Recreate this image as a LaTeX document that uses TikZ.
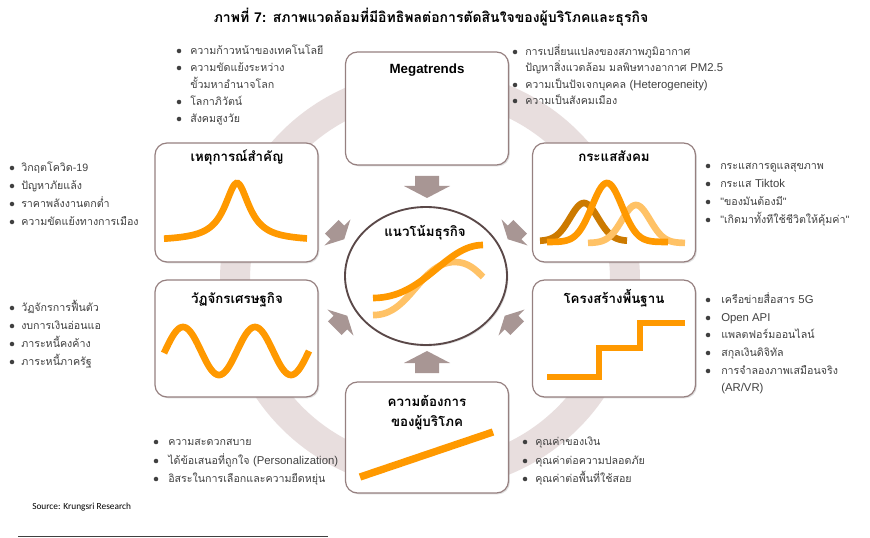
\documentclass[tikz,border=0pt]{standalone}
\usepackage{fontspec}
\setmainfont{Liberation Sans}
\newfontfamily\thai[Script=Thai]{Loma}
\newfontfamily\latf{Liberation Sans}
\newfontfamily\srcfont{Carlito}
\usetikzlibrary{shapes.geometric,shadows}
\definecolor{ringc}{RGB}{232,222,222}
\definecolor{boxc}{RGB}{150,128,128}
\definecolor{arrc}{RGB}{168,150,148}
\definecolor{orng}{RGB}{255,153,0}
\definecolor{dorng}{RGB}{204,122,0}
\definecolor{lorng}{RGB}{255,194,102}
\definecolor{txtc}{RGB}{64,64,64}
\definecolor{circc}{RGB}{90,72,72}
\tikzset{
 panel/.style={draw=boxc, line width=0.9pt, fill=white, rounded corners=9pt, minimum width=122.25pt, inner sep=0pt,
   drop shadow={opacity=0.25, shadow xshift=1pt, shadow yshift=-1pt}},
 ptitle/.style={font=\thai\bfseries\fontsize{10}{12}\selectfont, text=black, inner sep=0pt, text height=8pt, text depth=3pt},
 btext/.style={font=\thai\fontsize{8}{10}\selectfont, text=txtc, anchor=west, inner sep=0pt, text height=7pt, text depth=2pt},
 bdot/.style={circle, fill=txtc, minimum size=3.4pt, inner sep=0pt},
 curve/.style={line width=5pt, draw=orng},
 blockarrow/.pic={\fill[arrc] (-12,-11) -- (12,-11) -- (12,-1) -- (23,-1) -- (0,11) -- (-23,-1) -- (-12,-1) -- cycle;}
}
\newcommand\mybul[5]{\node[bdot] (#1d) at (#2,#4) {}; \node[btext] (#1) at (#3,#4) {#5};}
\newcommand\myline[4]{\node[btext] (#1) at (#2,#3) {#4};}
\begin{document}
\begin{tikzpicture}[x=0.75pt,y=-0.75pt]
\useasboundingbox (0,0) rectangle (870,538);
\fill[white] (0,0) rectangle (870,538);
% title
\node[font=\thai\bfseries\fontsize{10.5}{12}\selectfont, inner sep=0pt] (title) at (431,17) {ภาพที่ {\latf 7:} สภาพแวดล้อมที่มีอิทธิพลต่อการตัดสินใจของผู้บริโภคและธุรกิจ};
% ring
\draw[ringc, line width=22.5pt] (430,280) circle[radius=146.25pt];
% panels
\node[panel, minimum height=84.75pt] (mega) at (427,108.5) {};
\node[panel, minimum height=89.25pt] (evt) at (236.5,202.5) {};
\node[panel, minimum height=89.25pt] (soc) at (614,202.5) {};
\node[panel, minimum height=87.75pt] (cyc) at (236.5,338.5) {};
\node[panel, minimum height=87.75pt] (infra) at (614,338.5) {};
\node[panel, minimum height=83.25pt] (cons) at (427,437.5) {};
% centre
\node[ellipse, draw=circc, line width=1.4pt, fill=white, minimum width=121.5pt, minimum height=103.5pt, inner sep=0pt,
  drop shadow={opacity=0.25, shadow xshift=1pt, shadow yshift=-1pt}] (trend) at (426,276) {};
% arrows
\pic at (427,187) {blockarrow};
\pic[rotate=180] at (427,362) {blockarrow};
\pic[rotate=45, scale=0.8] at (338,233) {blockarrow};
\pic[rotate=-45, scale=0.8] at (514,233) {blockarrow};
\pic[rotate=135, scale=0.8] at (341,322) {blockarrow};
\pic[rotate=-135, scale=0.8] at (511,322) {blockarrow};
% titles
\node[font=\latf\bfseries\fontsize{10}{12}\selectfont, inner sep=0pt] (megat) at (427,70) {Megatrends};
\node[ptitle] (evtt) at (237,158) {เหตุการณ์สำคัญ};
\node[ptitle] (soct) at (614,158) {กระแสสังคม};
\node[ptitle] (cyct) at (237,300) {วัฏจักรเศรษฐกิจ};
\node[ptitle] (infrat) at (614,300) {โครงสร้างพื้นฐาน};
\node[ptitle] (const1) at (427,403) {ความต้องการ};
\node[ptitle] (const2) at (427,423) {ของผู้บริโภค};
\node[ptitle] (trendt) at (425,233) {แนวโน้มธุรกิจ};
% curves
\draw[curve] plot[domain=164:307, samples=90, smooth] (\x, {241 - 58/(1+((\x-237)/15)*((\x-237)/15))});
\draw[line width=5pt, dorng] plot[domain=540:627, samples=60, smooth] (\x, {241 - 38*exp(-0.5*((\x-584)/14)*((\x-584)/14))});
\draw[line width=5pt, lorng] plot[domain=588:685, samples=60, smooth] (\x, {243 - 38*exp(-0.5*((\x-636)/14)*((\x-636)/14))});
\draw[curve] plot[domain=547:668, samples=70, smooth] (\x, {242 - 59*exp(-0.5*((\x-607)/15)*((\x-607)/15))});
\draw[curve] plot[domain=164:309, samples=100, smooth] (\x, {351 - 24*sin(5*(\x-165))});
\draw[curve] (547,377) -| (599,348) -| (640,323) -- (685,323);
\draw[line width=5pt, lorng] (373,315) .. controls (410,316) and (420,262) .. (455,262) .. controls (468,262) and (476,270) .. (483,277);
\draw[curve] (373,298) .. controls (425,298) and (445,245) .. (483,245);
\draw[curve, line width=5.5pt] (360,477) -- (493,432);
% bullets: megatrends left
\mybul{a1}{179}{190}{51}{ความก้าวหน้าของเทคโนโลยี}
\mybul{a2}{179}{190}{68}{ความขัดแย้งระหว่าง}
\myline{a2b}{190}{85}{ขั้วมหาอำนาจโลก}
\mybul{a3}{179}{190}{102}{โลกาภิวัตน์}
\mybul{a4}{179}{190}{119}{สังคมสูงวัย}
% megatrends right
\mybul{b1}{515}{525}{52}{การเปลี่ยนแปลงของสภาพภูมิอากาศ}
\myline{b1b}{525}{68}{ปัญหาสิ่งแวดล้อม มลพิษทางอากาศ {\latf\fontsize{8.5}{10}\selectfont PM2.5}}
\mybul{b2}{515}{525}{85}{ความเป็นปัจเจกบุคคล {\latf\fontsize{8.5}{10}\selectfont (Heterogeneity)}}
\mybul{b3}{515}{525}{101}{ความเป็นสังคมเมือง}
% left top
\mybul{c1}{12}{21}{168}{วิกฤตโควิด{\latf -19}}
\mybul{c2}{12}{21}{186}{ปัญหาภัยแล้ง}
\mybul{c3}{12}{21}{204}{ราคาพลังงานตกต่ำ}
\mybul{c4}{12}{21}{222}{ความขัดแย้งทางการเมือง}
% right top
\mybul{d1}{708}{720}{166}{กระแสการดูแลสุขภาพ}
\mybul{d2}{708}{720}{184}{กระแส {\latf\fontsize{8.5}{10}\selectfont Tiktok}}
\mybul{d3}{708}{720}{202}{{\latf "}ของมันต้องมี{\latf "}}
\mybul{d4}{708}{720}{220}{{\latf "}เกิดมาทั้งทีใช้ชีวิตให้คุ้มค่า{\latf "}}
% left mid
\mybul{e1}{12}{21}{308}{วัฏจักรการฟื้นตัว}
\mybul{e2}{12}{21}{326}{งบการเงินอ่อนแอ}
\mybul{e3}{12}{21}{344}{ภาระหนี้คงค้าง}
\mybul{e4}{12}{21}{362}{ภาระหนี้ภาครัฐ}
% right mid
\mybul{f1}{708}{721}{300}{เครือข่ายสื่อสาร {\latf\fontsize{8.5}{10}\selectfont 5G}}
\mybul{f2}{708}{721}{318}{{\latf\fontsize{8.5}{10}\selectfont Open API}}
\mybul{f3}{708}{721}{335}{แพลตฟอร์มออนไลน์}
\mybul{f4}{708}{721}{353}{สกุลเงินดิจิทัล}
\mybul{f5}{708}{721}{371}{การจำลองภาพเสมือนจริง}
\myline{f5b}{721}{388}{{\latf\fontsize{8.5}{10}\selectfont (AR/VR)}}
% bottom left
\mybul{g1}{156}{168}{442}{ความสะดวกสบาย}
\mybul{g2}{156}{168}{461}{ได้ข้อเสนอที่ถูกใจ {\latf\fontsize{8.5}{10}\selectfont (Personalization)}}
\mybul{g3}{156}{168}{479}{อิสระในการเลือกและความยืดหยุ่น}
% bottom right
\mybul{h1}{525}{535}{442}{คุณค่าของเงิน}
\mybul{h2}{525}{535}{461}{คุณค่าต่อความปลอดภัย}
\mybul{h3}{525}{535}{479}{คุณค่าต่อพื้นที่ใช้สอย}
% source
\node[font=\srcfont\fontsize{7}{8}\selectfont, anchor=west, inner sep=0pt] (src) at (32,507) {Source: Krungsri Research};
\coordinate (rl) at (18,536.5);
\coordinate (rr) at (328,536.5);
\draw[line width=0.6pt, black!75] (rl) -- (rr);
\end{tikzpicture}
\end{document}
